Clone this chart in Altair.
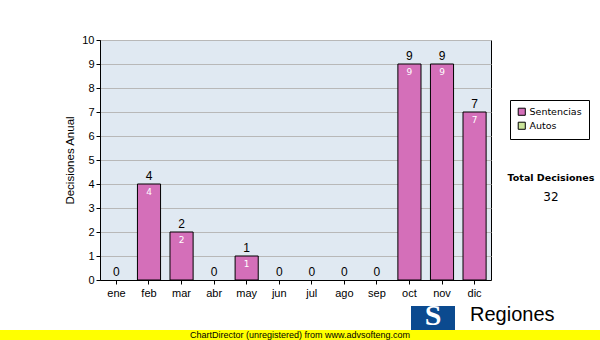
import altair as alt
import pandas as pd

months = ["ene", "feb", "mar", "abr", "may", "jun", "jul", "ago", "sep", "oct", "nov", "dic"]
sentencias = [0, 4, 2, 0, 1, 0, 0, 0, 0, 9, 9, 7]
autos = [0, 0, 0, 0, 0, 0, 0, 0, 0, 0, 0, 0]
series_names = ["Sentencias", "Autos"]
series_colors = ["#d46fb9", "#cce59a"]
y_ticks = [0, 1, 2, 3, 4, 5, 6, 7, 8, 9, 10]
total_label = "Total Decisiones"
total_value = str(sum(sentencias) + sum(autos))

df = pd.DataFrame({"mes": months, "valor": sentencias, "serie": "Sentencias"})
FONT = "DejaVu Sans"
AXF = "Liberation Sans"

x = alt.X("mes:N", sort=months, title=None,
          scale=alt.Scale(paddingInner=0.29, paddingOuter=0.15),
          axis=alt.Axis(labelAngle=0, labelFontSize=11, labelColor="black",
                        domainColor="black", tickColor="black", tickSize=4,
                        labelPadding=3, labelFont=AXF))
y = alt.Y("valor:Q", title="Decisiones Anual",
          scale=alt.Scale(domain=[0, 10], nice=False),
          axis=alt.Axis(values=y_ticks, labelOverlap=False, labelFontSize=11, labelColor="black",
                        domainColor="black", tickColor="black", tickSize=4,
                        gridColor="#b8b8b8", grid=True, titleFontSize=11.5,
                        titleFontWeight="normal", titleColor="black", titlePadding=6,
                        labelFont=AXF, titleFont=AXF))

base = alt.Chart(df)

bars = base.transform_filter("datum.valor > 0").mark_bar(stroke="black", strokeWidth=1).encode(
    x=x, y=y,
    color=alt.Color("serie:N", scale=alt.Scale(domain=series_names, range=series_colors),
                    legend=alt.Legend(title=None, orient="none", legendX=410, legendY=60,
                                      strokeColor="black", fillColor="white", padding=7,
                                      symbolType="square", symbolStrokeColor="black",
                                      symbolStrokeWidth=1, symbolSize=50, labelFontSize=9.5,
                                      labelFont=FONT, labelColor="black", rowPadding=2,
                                      labelOffset=3))
)

top_labels = base.mark_text(baseline="bottom", dy=-1, fontSize=12, font=AXF, color="black").encode(
    x=x, y=y, text="valor:Q")

inner_labels = base.transform_filter("datum.valor > 0").mark_text(
    baseline="top", dy=4, fontSize=9, font=FONT, color="white").encode(
    x=x, y=y, text="valor:Q")

one = alt.Chart(pd.DataFrame({"a": [0]}))

total_t = one.mark_text(font=FONT, fontSize=9.5, fontWeight="bold", color="black").encode(
    x=alt.value(451), y=alt.value(138), text=alt.value(total_label))
total_v = one.mark_text(font=FONT, fontSize=12, color="black").encode(
    x=alt.value(451), y=alt.value(157), text=alt.value(total_value))

logo_box = one.mark_rect(color="#0b4a8f").encode(
    x=alt.value(311), x2=alt.value(355), y=alt.value(266), y2=alt.value(300))
logo_s = one.mark_text(font="Liberation Serif", fontSize=30, fontWeight="bold", color="white",
                       baseline="middle").encode(
    x=alt.value(333), y=alt.value(276), text=alt.value("S"))
logo_t = one.mark_text(font=AXF, fontSize=20, color="black", align="left").encode(
    x=alt.value(370), y=alt.value(275), text=alt.value("Regiones"))
yellow = one.mark_rect(color="#ffff00").encode(
    x=alt.value(-100), x2=alt.value(500), y=alt.value(290), y2=alt.value(300))
cd = one.mark_text(font=AXF, fontSize=9, color="black").encode(
    x=alt.value(200), y=alt.value(295), text=alt.value("ChartDirector (unregistered) from www.advsofteng.com"))

chart = alt.layer(bars, top_labels, inner_labels, total_t, total_v, logo_box, logo_s, logo_t,
                  yellow, cd).properties(
    width=391, height=240,
    padding={"left": 100, "top": 40, "right": 109, "bottom": 60},
    autosize="none", background="white"
).configure_view(stroke="black", strokeWidth=1, fill="#e0e9f2").configure_axis(
    gridWidth=1
)

chart.save("out.html", embed_options={"renderer": "svg", "actions": False})
